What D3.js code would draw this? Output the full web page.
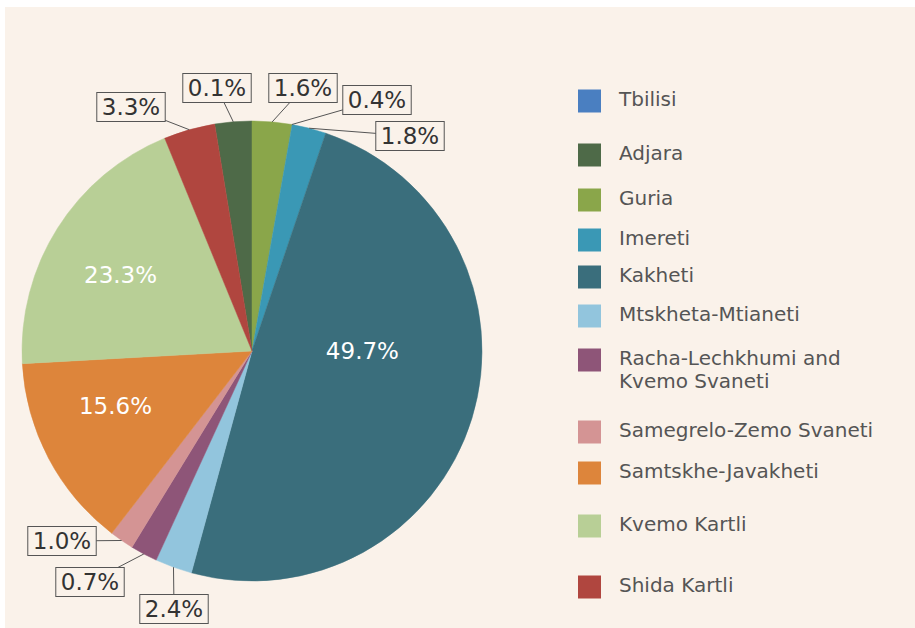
<!DOCTYPE html>
<html>
<head>
<meta charset="utf-8">
<script src="https://cdn.jsdelivr.net/npm/d3@7"></script>
<style>
  body { margin: 0; background: #fff; }
  svg { display: block; font-family: "DejaVu Sans", sans-serif; }
</style>
</head>
<body>
<svg id="chart" width="915" height="628"></svg>
<script>
// Regions, in legend order
const regions = [
  "Tbilisi", "Adjara", "Guria", "Imereti", "Kakheti", "Mtskheta-Mtianeti",
  "Racha-Lechkhumi and Kvemo Svaneti", "Samegrelo-Zemo Svaneti",
  "Samtskhe-Javakheti", "Kvemo Kartli", "Shida Kartli"
];
// Slice shares (%) as drawn in the picture
const shares = [0, 2.6, 2.8, 2.4, 49.1, 2.6, 1.9, 1.7, 13.7, 19.7, 3.6];
// Percentage labels as printed on the chart
const pctLabels = ["0.4%", "0.1%", "1.6%", "1.8%", "49.7%", "2.4%", "0.7%", "1.0%", "15.6%", "23.3%", "3.3%"];
const colors = [
  "#4a7fc1", "#4e6a48", "#8aa64a", "#3a98b5", "#3a6e7c", "#92c5dd",
  "#8e5578", "#d49494", "#dd853b", "#b8cf96", "#b0463f"
];

// Layout
const bg = "#faf2ea";
const cx = 252, cy = 351, r = 230;
const legendX = 578, legendBox = 23;
const legendY = [101, 155, 200, 240, 277, 316, 360, 432, 473, 526, 587];
const legendWrap = { "Racha-Lechkhumi and Kvemo Svaneti": ["Racha-Lechkhumi and", "Kvemo Svaneti"] };
// labels written inside the big slices: [angle deg, radius fraction]
const innerPos = { "Kakheti": [90, 0.48], "Samtskhe-Javakheti": [248, 0.64], "Kvemo Kartli": [300, 0.66] };
// boxed call-outs: box centre, optional leader angle
const callouts = {
  "Shida Kartli": { box: [131, 107] },
  "Adjara": { box: [217, 88] },
  "Guria": { box: [303, 88] },
  "Tbilisi": { box: [377, 100], angle: 10 },
  "Imereti": { box: [410, 136] },
  "Samegrelo-Zemo Svaneti": { box: [62, 541] },
  "Racha-Lechkhumi and Kvemo Svaneti": { box: [90, 582] },
  "Mtskheta-Mtianeti": { box: [174, 609] }
};

const svg = d3.select("#chart");

svg.append("rect")
    .attr("x", 5).attr("y", 7)
    .attr("width", 915).attr("height", 628)
    .attr("fill", bg);

const data = regions.map((name, i) => ({ name, value: shares[i], label: pctLabels[i], color: colors[i] }));
const total = d3.sum(shares);
const offset = -2 * Math.PI * (shares[0] + shares[1]) / total;

const pie = d3.pie().sort(null).value(d => d.value)
    .startAngle(offset).endAngle(offset + 2 * Math.PI);
const arc = d3.arc().innerRadius(0).outerRadius(r);
const arcs = pie(data);

const g = svg.append("g").attr("transform", `translate(${cx},${cy})`);

g.selectAll("path.slice")
    .data(arcs.filter(d => d.value > 0))
    .join("path")
    .attr("class", "slice")
    .attr("d", arc)
    .attr("fill", d => d.data.color)
    .attr("stroke", d => d.data.color)
    .attr("stroke-width", 0.5);

const polar = (deg, rad) => {
  const a = deg * Math.PI / 180;
  return [rad * Math.sin(a), -rad * Math.cos(a)];
};

// labels inside slices
arcs.filter(d => innerPos[d.data.name]).forEach(d => {
  const [deg, f] = innerPos[d.data.name];
  const [x, y] = polar(deg, r * f);
  g.append("text")
      .attr("x", x).attr("y", y)
      .attr("dy", "0.35em")
      .attr("text-anchor", "middle")
      .attr("fill", "#fff")
      .attr("font-size", 23)
      .text(d.data.label);
});

// boxed call-outs with leader lines
const cg = svg.append("g");
arcs.filter(d => callouts[d.data.name]).forEach(d => {
  const c = callouts[d.data.name];
  const mid = c.angle !== undefined ? c.angle : (d.startAngle + d.endAngle) / 2 * 180 / Math.PI;
  const [ax, ay] = polar(mid, r);
  cg.append("line")
      .attr("x1", cx + ax).attr("y1", cy + ay)
      .attr("x2", c.box[0]).attr("y2", c.box[1])
      .attr("stroke", "#555").attr("stroke-width", 1);
  const t = cg.append("text")
      .attr("x", c.box[0]).attr("y", c.box[1])
      .attr("dy", "0.35em")
      .attr("text-anchor", "middle")
      .attr("fill", "#333")
      .attr("font-size", 23)
      .text(d.data.label);
  const bb = t.node().getBBox();
  cg.insert("rect", function() { return t.node(); })
      .attr("x", c.box[0] - bb.width / 2 - 5)
      .attr("y", c.box[1] - 14.5)
      .attr("width", bb.width + 10)
      .attr("height", 29)
      .attr("fill", bg)
      .attr("stroke", "#555").attr("stroke-width", 1);
});

// legend
const lg = svg.append("g");
data.forEach((d, i) => {
  const y = legendY[i];
  lg.append("rect")
      .attr("x", legendX).attr("y", y - legendBox / 2)
      .attr("width", legendBox).attr("height", legendBox)
      .attr("fill", d.color);
  const lines = legendWrap[d.name] || [d.name];
  const t = lg.append("text")
      .attr("x", legendX + 41).attr("y", y - 2)
      .attr("font-size", 20)
      .attr("fill", "#555");
  lines.forEach((line, j) => {
    t.append("tspan")
        .attr("x", legendX + 41)
        .attr("dy", j === 0 ? "0.35em" : 23)
        .text(line);
  });
});
</script>
</body>
</html>
